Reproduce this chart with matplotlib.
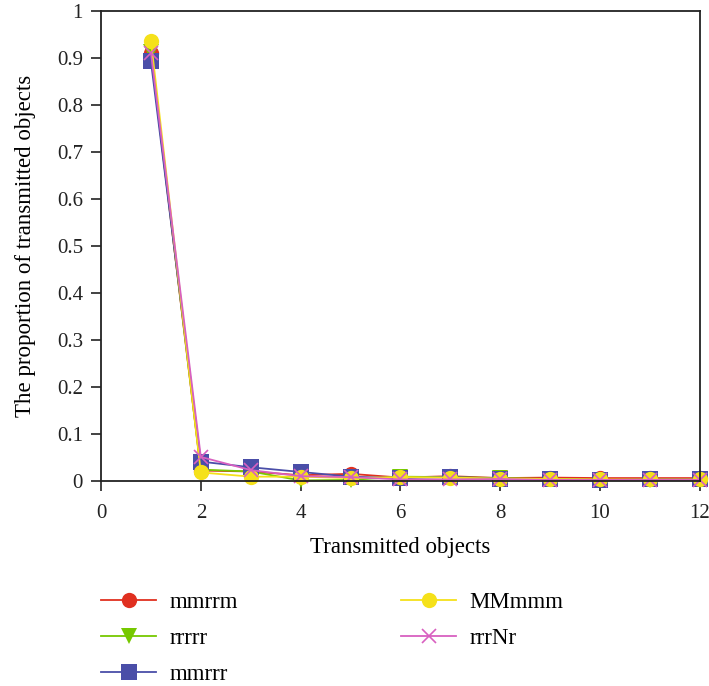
import matplotlib
matplotlib.use("Agg")
import matplotlib.pyplot as plt

x = [1, 2, 3, 4, 5, 6, 7, 8, 9, 10, 11, 12]
mmrrm = [0.910, 0.022, 0.020, 0.012, 0.015, 0.007, 0.010, 0.006, 0.007, 0.006, 0.006, 0.006]
rrrrr = [0.912, 0.024, 0.020, 0.001, 0.002, 0.009, 0.008, 0.006, 0.004, 0.002, 0.002, 0.002]
mmrrr = [0.893, 0.041, 0.029, 0.019, 0.009, 0.006, 0.008, 0.005, 0.003, 0.002, 0.003, 0.003]
MMmmm = [0.937, 0.018, 0.009, 0.009, 0.006, 0.008, 0.007, 0.005, 0.004, 0.003, 0.003, 0.003]
rrrNr = [0.911, 0.051, 0.023, 0.010, 0.008, 0.003, 0.003, 0.004, 0.002, 0.002, 0.002, 0.002]

names = ["mmrrm", "rrrrr", "mmrrr", "MMmmm", "rrrNr"]
series = [mmrrm, rrrrr, mmrrr, MMmmm, rrrNr]
colors = ["#e03020", "#76c800", "#4a4ea8", "#f5e11a", "#d860c0"]
markers = ["o", "v", "s", "o", "x"]

plt.rcParams['font.family'] = ['Liberation Serif', 'DejaVu Serif']

fig = plt.figure(figsize=(7.09, 6.86), dpi=100)
ax = fig.add_axes([0.1425, 0.299, 0.8445, 0.685])

for name, ys, c, m in zip(names, series, colors, markers):
    if m == "x":
        ax.plot(x, ys, color=c, marker=m, markersize=10, markeredgewidth=1.2,
                linewidth=1.3, label=name, clip_on=False)
    else:
        ax.plot(x, ys, color=c, marker=m, markersize=11, markeredgewidth=0,
                linewidth=1.3, label=name, clip_on=False)

ax.set_xlim(0, 12)
ax.set_ylim(0, 1)
ax.set_xticks(range(0, 13, 2))
ax.set_yticks([i / 10 for i in range(11)])
ax.set_yticklabels(["0", "0.1", "0.2", "0.3", "0.4", "0.5", "0.6", "0.7", "0.8", "0.9", "1"])
ax.tick_params(direction="out", length=7, width=1.2, labelsize=15, colors="#222222", pad=6)
ax.tick_params(axis="x", pad=10)
for s in ax.spines.values():
    s.set_linewidth(1.3)
    s.set_color("#222222")
ax.set_xlabel("Transmitted objects", fontsize=16.5)
ax.set_ylabel("The proportion of transmitted objects", fontsize=16.5)
ax.yaxis.set_label_coords(-0.126, 0.5)
ax.xaxis.set_label_coords(0.5, -0.142)
ax.xaxis.label.set_va("center")
ax.yaxis.label.set_va("center")

handles, labels = ax.get_legend_handles_labels()
kw = dict(loc="upper left", frameon=False, fontsize=16.5, handlelength=2.4,
          labelspacing=0.66, handletextpad=0.6, borderpad=0, borderaxespad=0)
fig.legend(handles[:3], labels[:3], bbox_to_anchor=(101 / 709, 1 - 592 / 686), **kw)
fig.legend(handles[3:], labels[3:], bbox_to_anchor=(401 / 709, 1 - 592 / 686), **kw)

fig.savefig("out.png", dpi=100)
